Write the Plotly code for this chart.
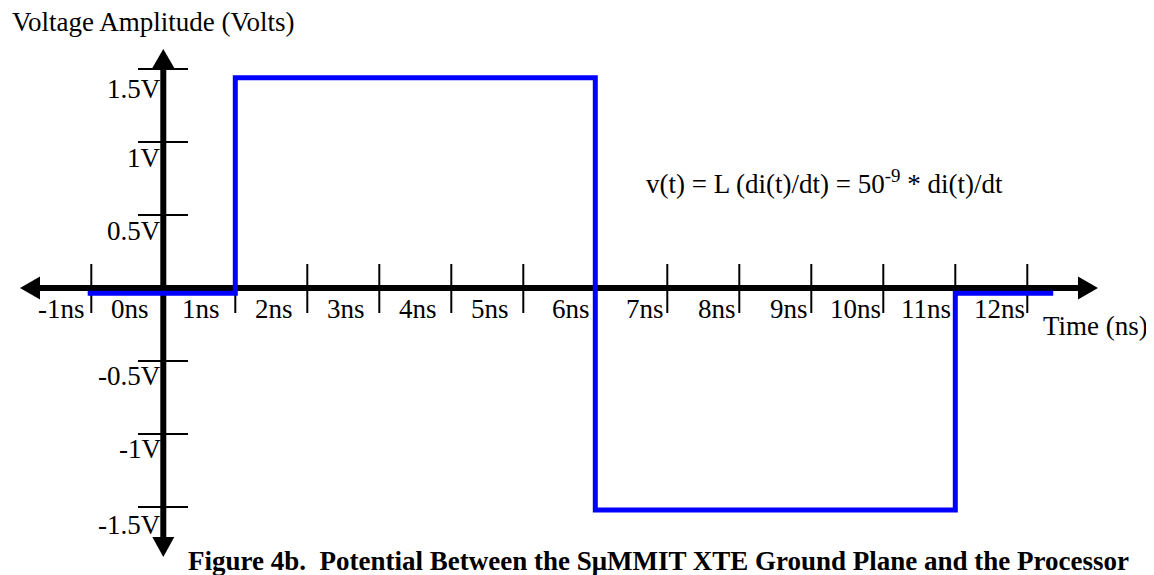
import plotly.graph_objects as go

# ---------------- data ----------------
step_times_ns = [-1.05, 1.0, 6.0, 11.0, 12.36]
step_volts = [-0.036, 1.44, -1.52, -0.036, -0.036]

x_tick_values = [-1, 0, 1, 2, 3, 4, 5, 6, 7, 8, 9, 10, 11, 12]
x_tick_labels = ["-1ns", "0ns", "1ns", "2ns", "3ns", "4ns", "5ns", "6ns",
                 "7ns", "8ns", "9ns", "10ns", "11ns", "12ns"]
y_tick_values = [1.5, 1.0, 0.5, -0.5, -1.0, -1.5]
y_tick_labels = ["1.5V", "1V", "0.5V", "-0.5V", "-1V", "-1.5V"]

y_title = "Voltage Amplitude (Volts)"
x_title = "Time (ns)"
equation = "v(t) = L (di(t)/dt) = 50<sup>-9</sup> * di(t)/dt"
caption = "<b>Figure 4b.&nbsp; Potential Between the S\u03bcMMIT XTE Ground Plane and the Processor</b>"

# ---------------- layout geometry ----------------
PAGE_OFF = 8                      # page body margin in the browser
W, H = 1154 - PAGE_OFF, 575 - PAGE_OFF
X0_PX, PX_PER_NS = 163.3, 72.0    # reference pixel of t=0, px per ns
Y0_PX, PX_PER_V = 288.0, 146.0    # reference pixel of v=0, px per volt
x_range = [-(X0_PX - PAGE_OFF) / PX_PER_NS, (W - (X0_PX - PAGE_OFF)) / PX_PER_NS]
y_range = [-(H - (Y0_PX - PAGE_OFF)) / PX_PER_V, (Y0_PX - PAGE_OFF) / PX_PER_V]


def px2x(px):
    return (px - X0_PX) / PX_PER_NS


def py2y(py):
    return (Y0_PX - py) / PX_PER_V


def pfx(px):
    return (px - PAGE_OFF) / W


def pfy(py):
    return 1 - (py - PAGE_OFF) / H


# label right-edge offsets (ns) relative to tick position
x_label_offsets = [-0.06, -0.175, -0.185, -0.17, -0.175, -0.17, -0.175,
                   -0.045, -0.02, -0.02, -0.02, -0.01, -0.03, -0.01]
# vertical centre of y tick labels in reference pixels
y_label_px = [90, 159, 231.5, 377, 449.5, 526]

FONT = "Liberation Serif, Times New Roman, serif"
FS = 27

fig = go.Figure()

fig.add_trace(go.Scatter(
    x=step_times_ns, y=step_volts, mode="lines",
    line=dict(color="#0000FF", width=5, shape="hv"),
    hoverinfo="skip", showlegend=False,
))

shapes = []
shapes.append(dict(type="line", xref="x", yref="y", x0=px2x(36), x1=px2x(1082), y0=0, y1=0,
                   line=dict(color="black", width=6), layer="below"))
shapes.append(dict(type="line", xref="x", yref="y", x0=0, x1=0, y0=py2y(64), y1=py2y(541),
                   line=dict(color="black", width=6), layer="below"))


def tri(pts):
    path = "M " + " L ".join(f"{px2x(a)},{py2y(b)}" for a, b in pts) + " Z"
    return dict(type="path", xref="x", yref="y", path=path,
                fillcolor="black", line=dict(color="black", width=0), layer="below")


shapes.append(tri([(20, 288), (40, 276.5), (40, 299.5)]))
shapes.append(tri([(1098, 288), (1078, 276.5), (1078, 299.5)]))
shapes.append(tri([(X0_PX, 49), (X0_PX - 11, 68), (X0_PX + 11, 68)]))
shapes.append(tri([(X0_PX, 557), (X0_PX - 11, 537), (X0_PX + 11, 537)]))

for v in x_tick_values:
    if v == 0:
        continue
    shapes.append(dict(type="line", xref="x", yref="y", x0=v, x1=v,
                       y0=py2y(264), y1=py2y(313),
                       line=dict(color="black", width=2), layer="below"))
for v in y_tick_values:
    shapes.append(dict(type="line", xref="x", yref="y", x0=px2x(138), x1=px2x(188),
                       y0=v, y1=v, line=dict(color="black", width=2), layer="below"))

annotations = []
for v, lab, off in zip(x_tick_values, x_tick_labels, x_label_offsets):
    annotations.append(dict(x=v + off, y=py2y(309), xref="x", yref="y", text=lab,
                            showarrow=False, xanchor="right", yanchor="middle",
                            font=dict(family=FONT, size=FS, color="black")))
for lab, ypx in zip(y_tick_labels, y_label_px):
    annotations.append(dict(x=px2x(163), y=py2y(ypx - 1), xref="x", yref="y", text=lab,
                            showarrow=False, xanchor="right", yanchor="middle",
                            font=dict(family=FONT, size=FS, color="black")))

annotations.append(dict(x=pfx(10), y=pfy(22), xref="paper", yref="paper", text=y_title,
                        showarrow=False, xanchor="left", yanchor="middle",
                        font=dict(family=FONT, size=FS, color="black")))
annotations.append(dict(x=pfx(1041), y=pfy(326), xref="paper", yref="paper", text=x_title,
                        showarrow=False, xanchor="left", yanchor="middle",
                        font=dict(family=FONT, size=FS, color="black")))
annotations.append(dict(x=pfx(824), y=pfy(182), xref="paper", yref="paper", text=equation,
                        showarrow=False, xanchor="center", yanchor="middle",
                        font=dict(family=FONT, size=FS, color="black")))
annotations.append(dict(x=pfx(658), y=pfy(561), xref="paper", yref="paper", text=caption,
                        showarrow=False, xanchor="center", yanchor="middle",
                        font=dict(family=FONT, size=FS, color="black")))

fig.update_layout(
    width=W, height=H,
    margin=dict(l=0, r=0, t=0, b=0),
    paper_bgcolor="white", plot_bgcolor="white",
    xaxis=dict(range=x_range, visible=False, fixedrange=True),
    yaxis=dict(range=y_range, visible=False, fixedrange=True),
    shapes=shapes, annotations=annotations,
    showlegend=False,
)

fig.write_html("out.html")
